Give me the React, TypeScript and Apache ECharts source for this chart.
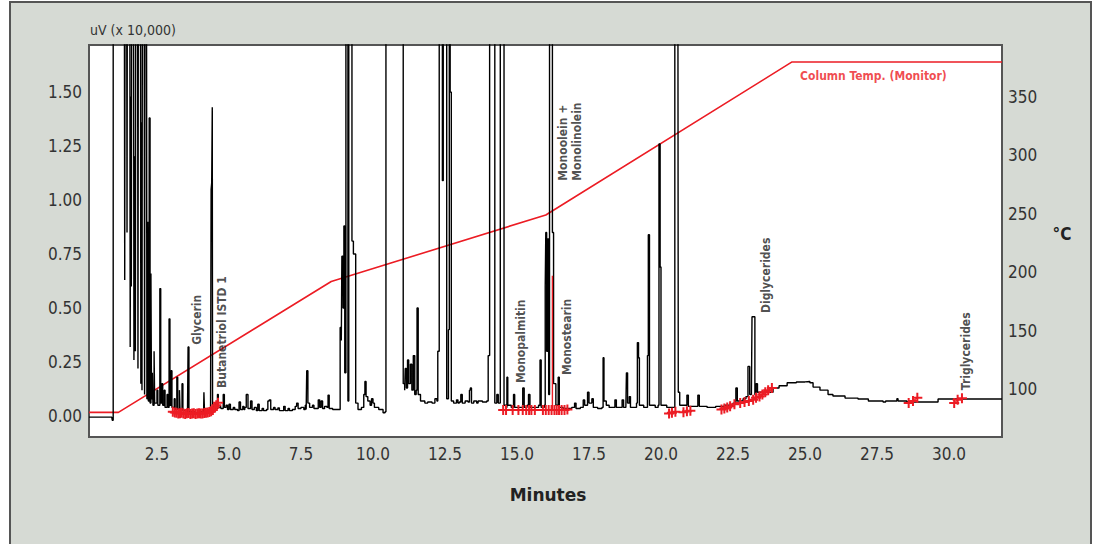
import React, { useEffect, useRef } from "react";
import * as echarts from "echarts";

const FONT = '"DejaVu Sans Condensed", "Liberation Sans Narrow", sans-serif';

const X_TICKS = [2.5, 5, 7.5, 10, 12.5, 15, 17.5, 20, 22.5, 25, 27.5, 30];
const UV_TICKS = [0, 0.25, 0.5, 0.75, 1, 1.25, 1.5];
const TEMP_TICKS = [100, 150, 200, 250, 300, 350];

// Detector signal (minutes, uV x 10,000); values above the frame are off-scale peaks
const solventRegion: [number, number][] = [
  [0.14, -0.005], [0.93, -0.005], [0.95, -0.02], [0.97, -0.02], [0.98, 3],
  [1.36, 3], [1.38, 0.63], [1.4, 3], [1.44, 3], [1.46, 0.85], [1.48, 3], [1.55, 3],
  [1.57, 0.32], [1.59, 1.48], [1.61, 0.6], [1.63, 3], [1.68, 3], [1.7, 0.26], [1.72, 1.2],
  [1.75, 0.3], [1.77, 3], [1.82, 3], [1.84, 0.22], [1.86, 3], [1.92, 3], [1.94, 0.15],
  [1.96, 1.36], [1.98, 0.12], [2.0, 3], [2.05, 3], [2.07, 0.1], [2.09, 3], [2.13, 3],
  [2.15, 0.08], [2.18, 0.9], [2.2, 0.07], [2.23, 1.38], [2.26, 0.06], [2.29, 0.66],
  [2.31, 0.08], [2.34, 0.2], [2.36, 0.05], [2.4, 0.3], [2.42, 0.06], [2.5, 0.12],
  [2.53, 0.05], [2.6, 0.59], [2.63, 0.06], [2.67, 0.15], [2.7, 0.05], [2.75, 0.12],
  [2.78, 0.04], [2.85, 0.1], [2.88, 0.04], [2.92, 0.45], [2.95, 0.05], [2.99, 0.21],
  [3.02, 0.04], [3.1, 0.08], [3.13, 0.03], [3.19, 0.18], [3.22, 0.03], [3.28, 0.12],
  [3.3, 0.03], [3.37, 0.15], [3.4, 0.025], [3.5, 0.02], [3.56, 0.02], [3.58, 0.32],
  [3.61, 0.02], [3.8, 0.015], [4.0, 0.02], [4.12, 0.02], [4.13, 0.11], [4.15, 0.02],
  [4.36, 0.025], [4.38, 1.05], [4.4, 1.08], [4.42, 1.43], [4.43, 0.05],
];

const earlyRegion: [number, number][] = [
  [4.47, 0.04], [4.5, 0.06], [4.53, 0.035], [4.6, 0.1], [4.63, 0.04], [4.7, 0.05],
  [4.72, 0.035], [4.8, 0.1], [4.84, 0.04], [4.9, 0.05], [4.95, 0.03], [5.0, 0.055],
  [5.05, 0.03], [5.15, 0.04], [5.2, 0.03], [5.3, 0.025], [5.35, 0.065], [5.4, 0.03],
  [5.48, 0.045], [5.52, 0.03], [5.55, 0.04], [5.6, 0.1], [5.66, 0.035], [5.75, 0.07],
  [5.8, 0.03], [5.88, 0.04], [5.95, 0.025], [6.0, 0.055], [6.05, 0.025], [6.15, 0.035],
  [6.2, 0.025], [6.3, 0.03], [6.35, 0.07], [6.4, 0.075], [6.45, 0.03], [6.55, 0.04],
  [6.6, 0.03], [6.7, 0.038], [6.75, 0.025], [6.8, 0.025], [6.9, 0.045], [6.95, 0.025],
  [7.05, 0.035], [7.1, 0.025], [7.2, 0.03], [7.3, 0.045], [7.35, 0.06], [7.4, 0.035],
  [7.5, 0.04], [7.6, 0.03], [7.65, 0.05], [7.68, 0.03], [7.7, 0.21], [7.74, 0.06],
  [7.8, 0.04], [7.9, 0.05], [7.95, 0.035], [8.05, 0.035], [8.1, 0.075], [8.15, 0.04],
  [8.2, 0.07], [8.25, 0.035], [8.32, 0.045], [8.4, 0.04], [8.44, 0.097], [8.48, 0.035],
  [8.6, 0.03], [8.82, 0.03], [8.86, 0.41], [8.9, 0.35], [8.92, 0.74], [8.96, 0.5],
  [8.99, 0.88], [9.02, 0.2], [9.06, 3], [9.1, 3], [9.13, 0.07], [9.16, 3], [9.24, 3],
  [9.27, 0.81], [9.32, 0.75], [9.4, 0.06], [9.48, 0.03], [9.6, 0.04], [9.68, 0.1],
  [9.72, 0.16], [9.76, 0.09], [9.82, 0.07], [9.9, 0.05], [9.95, 0.08], [10.0, 0.06],
  [10.05, 0.04], [10.2, 0.03], [10.35, 0.015], [10.42, 0.02], [10.45, 3], [11.02, 3],
];

const esterRegion: [number, number][] = [
  [11.05, 0.15], [11.1, 0.12], [11.12, 0.22], [11.16, 0.13], [11.2, 0.26], [11.24, 0.15],
  [11.3, 0.24], [11.35, 0.12], [11.4, 0.28], [11.45, 0.1], [11.5, 0.12], [11.53, 0.5],
  [11.57, 0.1], [11.65, 0.07], [11.8, 0.06], [11.9, 0.065], [12.05, 0.06], [12.15, 0.08],
  [12.22, 0.07], [12.25, 0.3], [12.3, 3], [12.38, 3], [12.41, 1.09], [12.44, 3],
  [12.53, 3], [12.56, 0.08], [12.62, 0.4], [12.65, 3], [12.68, 1.5], [12.72, 0.07],
  [12.8, 0.06], [12.9, 0.075], [12.95, 0.06], [13.0, 0.065], [13.05, 0.1], [13.1, 0.06],
  [13.2, 0.07], [13.3, 0.065], [13.35, 0.12], [13.38, 0.13], [13.42, 0.06], [13.5, 0.07],
  [13.6, 0.06], [13.65, 0.07], [13.8, 0.065], [13.95, 0.07], [14.0, 0.28], [14.05, 3],
  [14.2, 3], [14.23, 0.06], [14.3, 0.1], [14.35, 0.06], [14.42, 3], [14.52, 3],
  [14.55, 0.05],
];

const monoRegion: [number, number][] = [
  [14.62, 0.04], [14.65, 0.18], [14.68, 0.05], [14.8, 0.04], [14.88, 0.1], [14.92, 0.04],
  [15.1, 0.04], [15.2, 0.13], [15.25, 0.04], [15.35, 0.05], [15.4, 0.1], [15.45, 0.04],
  [15.6, 0.04], [15.75, 0.05], [15.8, 0.26], [15.84, 0.04], [15.95, 0.05], [15.98, 0.6],
  [16.0, 0.85], [16.03, 0.3], [16.06, 0.82], [16.1, 0.1], [16.13, 3], [16.2, 3],
  [16.23, 0.85], [16.27, 0.15], [16.35, 0.05], [16.43, 0.18], [16.47, 0.04], [16.6, 0.035],
  [16.8, 0.035], [16.9, 0.04], [17.0, 0.06], [17.05, 0.035], [17.2, 0.04], [17.3, 0.074],
  [17.35, 0.05], [17.45, 0.11], [17.5, 0.06], [17.6, 0.08], [17.65, 0.04], [17.8, 0.035],
  [17.95, 0.04], [17.99, 0.27], [18.02, 0.07], [18.1, 0.05], [18.2, 0.04], [18.35, 0.04],
  [18.4, 0.075], [18.45, 0.04], [18.6, 0.04], [18.65, 0.075], [18.7, 0.04], [18.78, 0.04],
  [18.8, 0.2], [18.84, 0.06], [18.9, 0.09], [18.94, 0.04], [19.1, 0.04], [19.15, 0.06],
  [19.18, 0.34], [19.22, 0.27], [19.25, 0.05], [19.4, 0.04], [19.5, 0.04], [19.53, 0.28],
  [19.56, 0.84], [19.6, 0.05], [19.8, 0.04], [19.9, 0.05], [19.93, 1.26], [19.97, 0.69],
  [20.0, 0.05], [20.2, 0.04], [20.4, 0.04], [20.48, 3], [20.58, 3], [20.6, 0.11],
  [20.65, 0.05], [20.85, 0.05], [20.9, 0.097], [20.95, 0.045], [21.2, 0.045],
  [21.28, 0.097], [21.33, 0.045], [21.6, 0.04],
];

const glycerideRegion: [number, number][] = [
  [21.9, 0.045], [22.2, 0.05], [22.5, 0.06], [22.6, 0.13], [22.65, 0.07], [22.85, 0.08],
  [22.95, 0.09], [23.02, 0.23], [23.08, 0.1], [23.14, 0.12], [23.16, 0.46], [23.23, 0.46],
  [23.26, 0.1], [23.3, 0.15], [23.35, 0.11], [23.6, 0.11], [23.89, 0.13], [24.1, 0.14],
  [24.38, 0.154], [24.7, 0.158], [25.0, 0.16], [25.17, 0.154], [25.28, 0.134],
  [25.52, 0.12], [25.8, 0.1], [25.97, 0.093], [26.39, 0.083], [26.84, 0.079],
  [27.2, 0.07], [27.71, 0.065], [27.8, 0.07], [28.15, 0.07], [28.19, 0.08], [28.23, 0.07],
  [28.54, 0.065], [29.0, 0.065], [29.58, 0.065], [29.62, 0.079], [31.84, 0.079],
];

const signal = [...solventRegion, ...earlyRegion, ...esterRegion, ...monoRegion, ...glycerideRegion];

// Column temperature monitor (minutes, °C)
const columnTemp: [number, number][] = [
  [0.14, 80], [1.16, 80], [8.55, 192], [16.0, 249], [24.55, 380], [31.84, 380],
];

// Integration baseline markers (minutes, uV x 10,000); null separates groups
const baselineMarks: ([number, number] | null)[] = [
  [3.05, 0.02], [3.12, 0.016], [3.18, 0.015], [3.24, 0.012], [3.3, 0.013], [3.36, 0.015],
  [3.42, 0.012], [3.48, 0.01], [3.54, 0.013], [3.6, 0.014], [3.66, 0.01], [3.72, 0.012],
  [3.78, 0.013], [3.84, 0.01], [3.9, 0.012], [3.96, 0.013], [4.02, 0.012], [4.08, 0.012],
  [4.14, 0.014], [4.2, 0.015], [4.26, 0.017], [4.32, 0.019], [4.38, 0.022], [4.44, 0.028],
  [4.5, 0.038], [4.56, 0.05], [4.62, 0.062], null,
  [14.52, 0.028], [14.62, 0.028], [14.85, 0.028], [15.05, 0.028], [15.2, 0.028],
  [15.32, 0.028], [15.42, 0.028], [15.5, 0.028], [15.62, 0.028], [15.9, 0.028],
  [16.0, 0.028], [16.1, 0.028], [16.2, 0.028], [16.3, 0.028], [16.38, 0.028],
  [16.46, 0.028], [16.55, 0.028], [16.65, 0.028], [16.75, 0.03], null,
  [20.28, 0.012], [20.38, 0.015], [20.5, 0.02], null,
  [20.78, 0.018], [20.9, 0.022], [21.02, 0.025], null,
  [22.1, 0.03], [22.2, 0.035], [22.3, 0.04], [22.4, 0.045], [22.55, 0.055], [22.75, 0.06],
  [22.9, 0.065], [23.05, 0.07], [23.2, 0.075], [23.3, 0.085], [23.42, 0.09], [23.52, 0.1],
  [23.62, 0.11], [23.72, 0.12], [23.85, 0.13], null,
  [28.6, 0.06], [28.75, 0.07], [28.9, 0.085], null,
  [30.18, 0.06], [30.3, 0.075], [30.45, 0.082],
];

const baselineDrop: [number, number][] = [[16.23, 0.03], [16.23, 0.65]];

// Peak labels anchored at the bottom of the (vertical) text
const peakLabels = [
  { name: "Glycerin", t: 3.89, v: 0.33 },
  { name: "Butanetriol ISTD 1", t: 4.76, v: 0.13 },
  { name: "Monopalmitin", t: 15.14, v: 0.153 },
  { name: "Monoolein +\nMonolinolein", t: 16.84, v: 1.09 },
  { name: "Monostearin", t: 16.74, v: 0.19 },
  { name: "Diglycerides", t: 23.65, v: 0.477 },
  { name: "Triglycerides", t: 30.59, v: 0.12 },
];

const tempLabel = { name: "Column Temp. (Monitor)", t: 24.83, temp: 368 };

const CROSS = "path://M0,4 L10,4 L10,6 L0,6 Z M4,0 L6,0 L6,10 L4,10 Z";

export default function App() {
  const ref = useRef<HTMLDivElement>(null);
  useEffect(() => {
    const chart = echarts.init(ref.current!, null, { renderer: "svg" });
    const axisLabelBase = { fontFamily: FONT, fontSize: 17, color: "#333" };
    chart.setOption({
      animation: false,
      backgroundColor: "transparent",
      graphic: [
        { type: "text", x: 90, y: 23, style: { text: "uV (x 10,000)", font: `14px ${FONT}`, fill: "#333" } },
        { type: "text", x: 1062, y: 234, style: { text: "°C", font: `bold 17px ${FONT}`, fill: "#222", align: "center", verticalAlign: "middle" } },
        { type: "text", x: 548, y: 495, style: { text: "Minutes", font: `bold 17px "DejaVu Sans", sans-serif`, fill: "#222", align: "center", verticalAlign: "middle" } },
      ],
      grid: { left: 89, top: 45, right: 94, bottom: 107, show: true, backgroundColor: "#ffffff", borderColor: "#555", borderWidth: 2 },
      xAxis: {
        type: "value", min: 0.14, max: 31.84,
        axisLine: { show: false }, axisTick: { show: false }, splitLine: { show: false },
        axisLabel: { ...axisLabelBase, customValues: X_TICKS, margin: 8, formatter: (v: number) => v.toFixed(1) },
      },
      yAxis: [
        {
          type: "value", min: -0.097, max: 1.718,
          axisLine: { show: false }, axisTick: { show: false }, splitLine: { show: false },
          axisLabel: { ...axisLabelBase, customValues: UV_TICKS, margin: 7, formatter: (v: number) => v.toFixed(2) },
        },
        {
          type: "value", position: "right", min: 58.9, max: 394.5,
          axisLine: { show: false }, axisTick: { show: false }, splitLine: { show: false },
          axisLabel: { ...axisLabelBase, customValues: TEMP_TICKS, margin: 6, formatter: (v: number) => String(v) },
        },
      ],
      series: [
        {
          name: "Column Temp.", type: "line", yAxisIndex: 1, data: columnTemp, showSymbol: false,
          lineStyle: { color: "#ec1c24", width: 1.6 }, z: 2, silent: true,
        },
        {
          name: "Signal", type: "line", data: signal, showSymbol: false, clip: true, step: "end",
          lineStyle: { color: "#000", width: 1.4 }, z: 3, silent: true,
        },
        {
          name: "Baseline", type: "line", data: baselineMarks, connectNulls: false,
          symbol: CROSS, symbolSize: [10, 10], showSymbol: true, showAllSymbol: true,
          itemStyle: { color: "#ec1c24" }, lineStyle: { color: "#ec1c24", width: 1.2 }, z: 4, silent: true,
        },
        {
          name: "Drop", type: "line", data: baselineDrop, showSymbol: false,
          lineStyle: { color: "#ec1c24", width: 1.4 }, z: 4, silent: true,
        },
        {
          name: "Peaks", type: "scatter", symbolSize: 0, silent: true, z: 5,
          data: peakLabels.map((p) => ({ name: p.name, value: [p.t, p.v] })),
          label: {
            show: true, formatter: "{b}", position: "inside", rotate: 90, align: "left", verticalAlign: "middle",
            fontFamily: FONT, fontWeight: "bold", fontSize: 12, lineHeight: 14, color: "#222",
          },
        },
        {
          name: "TempLabel", type: "scatter", yAxisIndex: 1, symbolSize: 0, silent: true, z: 5,
          data: [{ name: tempLabel.name, value: [tempLabel.t, tempLabel.temp] }],
          label: {
            show: true, formatter: "{b}", position: "inside", align: "left", verticalAlign: "middle",
            fontFamily: FONT, fontWeight: "bold", fontSize: 12, color: "#ec1c24",
          },
        },
      ],
    });
    return () => chart.dispose();
  }, []);
  return (
    <div style={{ position: "fixed", left: 0, top: 0, width: 1096, height: 544, background: "#fff", overflow: "hidden" }}>
      <div style={{ position: "absolute", left: 9, top: 1, width: 1083, height: 600, background: "#d6dad4", border: "2px solid #555", boxSizing: "border-box" }} />
      <div ref={ref} style={{ position: "absolute", left: 0, top: 0, width: 1096, height: 544 }} />
    </div>
  );
}
